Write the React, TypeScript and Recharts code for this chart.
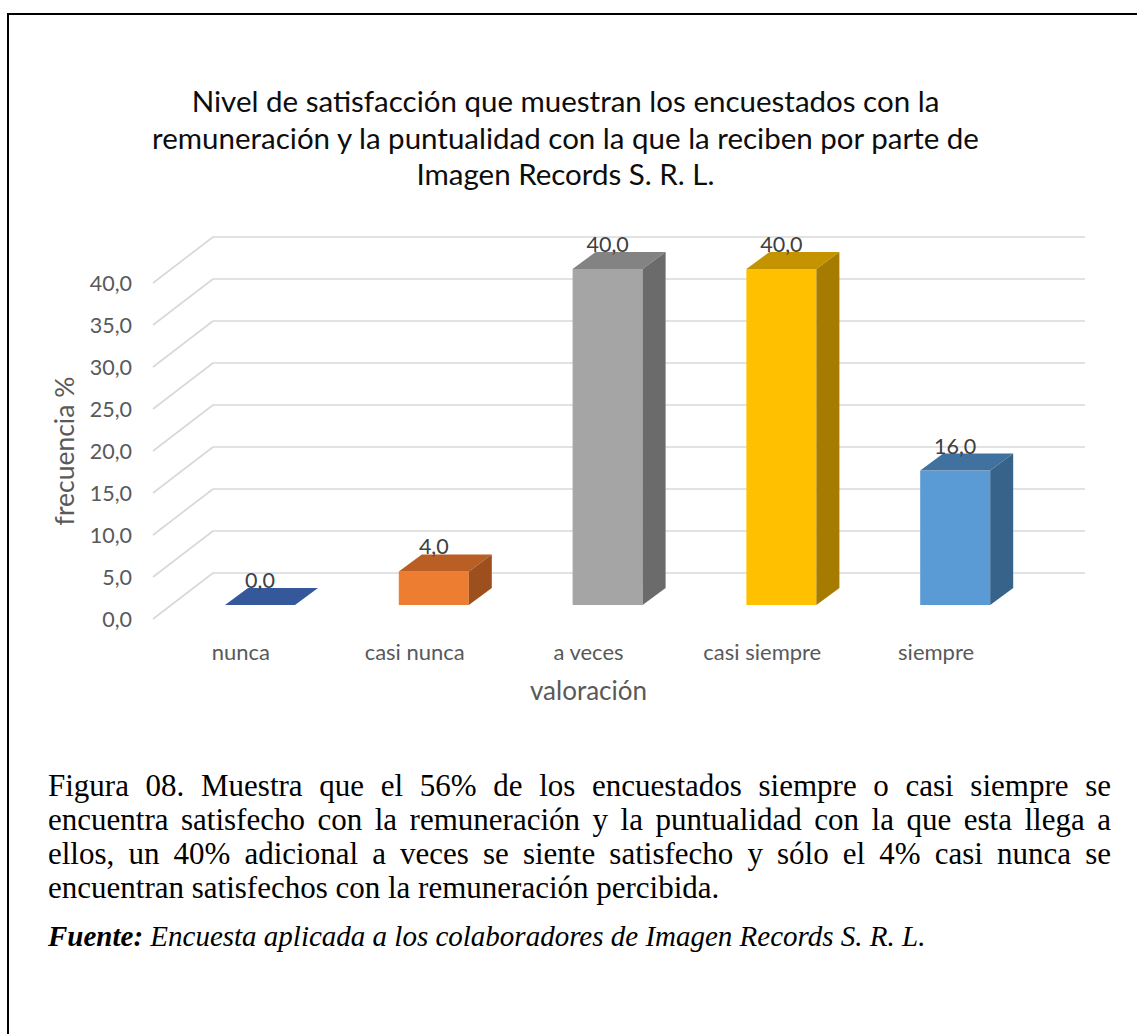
import React from "react";
import { BarChart, Bar, XAxis, YAxis, CartesianGrid, Cell, LabelList } from "recharts";

const categories = ["nunca", "casi nunca", "a veces", "casi siempre", "siempre"];
const frecuencia = [0, 4, 40, 40, 16];
const yTicks = [0, 5, 10, 15, 20, 25, 30, 35, 40];
const frontColors = ["#4472C4", "#ED7D31", "#A5A5A5", "#FFC000", "#5B9BD5"];
const topColors = ["#34589A", "#B95F25", "#838383", "#C49300", "#41729F"];
const sideColors = ["#2B4A80", "#9E4F1E", "#6B6B6B", "#A67C00", "#37628A"];

const titleLines = [
  "Nivel de satisfacción que muestran los encuestados con la",
  "remuneración y la puntualidad con la que la reciben por parte de",
  "Imagen Records S. R. L.",
];
const captionLines = [
  "Figura 08. Muestra que el 56% de los encuestados siempre o casi siempre se",
  "encuentra satisfecho con la remuneración y la puntualidad con la que esta llega a",
  "ellos, un 40% adicional a veces se siente satisfecho y sólo el 4% casi nunca se",
  "encuentran satisfechos con la remuneración percibida.",
];

const data = categories.map((name, i) => ({ name, value: frecuencia[i] }));

// 3d look: bars sit a bit behind the front edge of the floor
const SHIFT = 19;
const DX = 23;
const DY = 17;
const FONT = "Lato, 'DejaVu Sans', sans-serif";
const SERIF = "'Liberation Serif', 'Times New Roman', serif";
const fmt = (v: number) => v.toFixed(1).replace(".", ",");

function Box3D(props: any) {
  const { x, y, width, height, index } = props;
  const fx = x + SHIFT;
  const b = y + height;
  return (
    <g>
      <rect x={fx} y={y} width={width} height={height} fill={frontColors[index]} />
      <polygon
        points={`${fx},${y} ${fx + width},${y} ${fx + width + DX},${y - DY} ${fx + DX},${y - DY}`}
        fill={topColors[index]}
      />
      <polygon
        points={`${fx + width},${y} ${fx + width + DX},${y - DY} ${fx + width + DX},${b - DY} ${fx + width},${b}`}
        fill={sideColors[index]}
      />
    </g>
  );
}

function GridLine(props: any) {
  const { x1, x2, y1, index } = props;
  return (
    <g key={`g-${index}`}>
      <line x1={x1 - 1} y1={y1 + 14} x2={x1 + 59} y2={y1 - 32} stroke="#D9D9D9" strokeWidth={1.7} />
      <line x1={x1 + 59} y1={y1 - 32} x2={x2 + 62} y2={y1 - 32} stroke="#D9D9D9" strokeWidth={1.7} />
    </g>
  );
}

function YTick(props: any) {
  const { x, y, payload } = props;
  return (
    <text x={x - 22} y={y + 14} dy={7.5} textAnchor="end" fill="#595959" fontSize={21.5} fontFamily={FONT}>
      {fmt(payload.value)}
    </text>
  );
}

function XTick(props: any) {
  const { x, y, payload } = props;
  return (
    <text x={x} y={y + 55} textAnchor="middle" fill="#595959" fontSize={22} fontFamily={FONT}>
      {payload.value}
    </text>
  );
}

function BarLabel(props: any) {
  const { x, y, width, value } = props;
  return (
    <text x={x + width / 2 + SHIFT} y={y - 17} textAnchor="middle" fill="#404040" fontSize={21.5} fontFamily={FONT}>
      {fmt(value)}
    </text>
  );
}

function XTitle(props: any) {
  const vb = props.viewBox;
  return (
    <text x={vb.x + vb.width / 2} y={vb.y + 95} textAnchor="middle" fill="#595959" fontSize={26} fontFamily={FONT}>
      valoración
    </text>
  );
}

function YTitle(props: any) {
  const vb = props.viewBox;
  const cx = vb.x + 74;
  const cy = vb.y + vb.height / 2 + 14;
  return (
    <text
      x={cx}
      y={cy}
      transform={`rotate(-90, ${cx}, ${cy})`}
      textAnchor="middle"
      fill="#595959"
      fontSize={26.5}
      fontFamily={FONT}
    >
      frecuencia %
    </text>
  );
}

export default function App() {
  return (
    <div style={{ position: "absolute", left: 0, top: 0, width: 1137, height: 1034, overflow: "hidden", background: "#fff" }}>
      <div
        style={{
          position: "absolute",
          left: 7,
          top: 13,
          width: 1200,
          height: 1100,
          borderLeft: "2.5px solid #000",
          borderTop: "2.5px solid #000",
        }}
      />
      <div
        style={{
          position: "absolute",
          left: 0,
          width: 1131,
          top: 83,
          textAlign: "center",
          fontFamily: FONT,
          fontSize: 29.5,
          lineHeight: "36.5px",
          color: "#0d0d0d",
        }}
      >
        {titleLines.map((t) => (
          <div key={t}>{t}</div>
        ))}
      </div>
      <div style={{ position: "absolute", left: 0, top: 0 }}>
        <BarChart width={1137} height={720} data={data} margin={{ top: 269, right: 114, bottom: 55, left: 0 }}>
          <CartesianGrid vertical={false} horizontal={GridLine} />
          <XAxis
            dataKey="name"
            axisLine={false}
            tickLine={false}
            tickSize={0}
            tickMargin={0}
            height={60}
            tick={XTick}
            interval={0}
            label={{ content: XTitle }}
          />
          <YAxis
            width={154}
            domain={[0, 40]}
            ticks={yTicks}
            axisLine={false}
            tickLine={false}
            tickSize={0}
            tickMargin={0}
            tick={YTick}
            label={{ content: YTitle }}
          />
          <Bar dataKey="value" barSize={70} shape={Box3D} isAnimationActive={false}>
            {data.map((d, i) => (
              <Cell key={d.name} fill={frontColors[i]} />
            ))}
            <LabelList dataKey="value" content={BarLabel} />
          </Bar>
        </BarChart>
      </div>
      <div
        style={{
          position: "absolute",
          left: 48,
          width: 1063,
          top: 769,
          fontFamily: SERIF,
          fontSize: 31,
          lineHeight: "34px",
          color: "#000",
        }}
      >
        {captionLines.map((t, i) => (
          <div key={i} style={{ textAlign: "justify", textAlignLast: i < captionLines.length - 1 ? "justify" : "left" }}>
            {t}
          </div>
        ))}
      </div>
      <div
        style={{
          position: "absolute",
          left: 48,
          top: 919,
          fontFamily: SERIF,
          fontSize: 29,
          lineHeight: "34px",
          fontStyle: "italic",
          color: "#000",
        }}
      >
        <b>Fuente:</b> Encuesta aplicada a los colaboradores de Imagen Records S. R. L.
      </div>
    </div>
  );
}
